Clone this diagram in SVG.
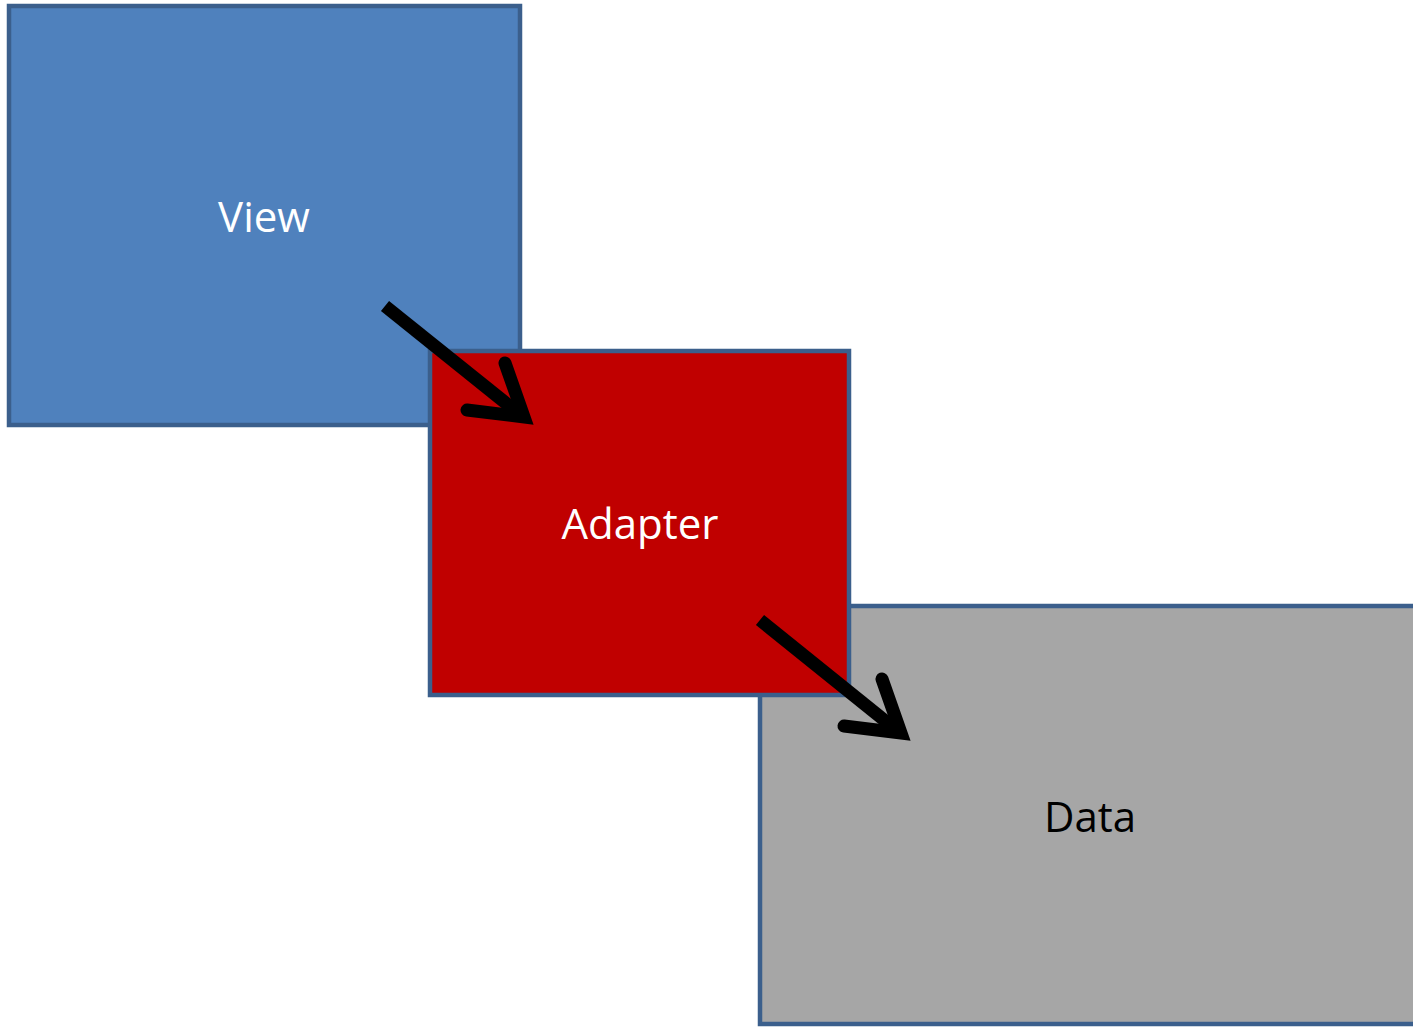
<svg xmlns="http://www.w3.org/2000/svg" width="1413" height="1027" viewBox="0 0 1413 1027">
  <style>
    .box { stroke: #3b5f8c; stroke-width: 4.5; }
    .label { font-family: "Open Sans", "Liberation Sans", sans-serif; font-size: 42px; text-anchor: middle; }
    .shaft { fill: none; stroke: #000; stroke-width: 13; stroke-linecap: butt; }
    .head { fill: none; stroke: #000; stroke-width: 13; stroke-linecap: round; stroke-linejoin: miter; stroke-miterlimit: 10; }
  </style>
  <rect width="1413" height="1027" fill="#ffffff"/>

  <g id="view">
    <rect class="box" x="9" y="6" width="511" height="419" fill="#4f81bd"/>
    <text class="label" x="264" y="232" fill="#ffffff">View</text>
  </g>

  <g id="data">
    <rect class="box" x="760" y="606" width="660" height="418" fill="#a6a6a6"/>
    <text class="label" x="1090" y="832" fill="#000000">Data</text>
  </g>

  <g id="adapter">
    <rect class="box" x="430" y="351" width="419" height="344" fill="#c00000"/>
    <text class="label" x="640" y="539" fill="#ffffff">Adapter</text>
  </g>

  <g id="connectors">
    <!-- View to Adapter -->
    <line class="shaft" x1="385" y1="306" x2="522" y2="416"/>
    <polyline class="head" points="505,363 524,417 467,410"/>
    <!-- Adapter to Data -->
    <line class="shaft" x1="760" y1="620" x2="899" y2="732"/>
    <polyline class="head" points="882,679 901,733 844,726"/>
  </g>
</svg>
